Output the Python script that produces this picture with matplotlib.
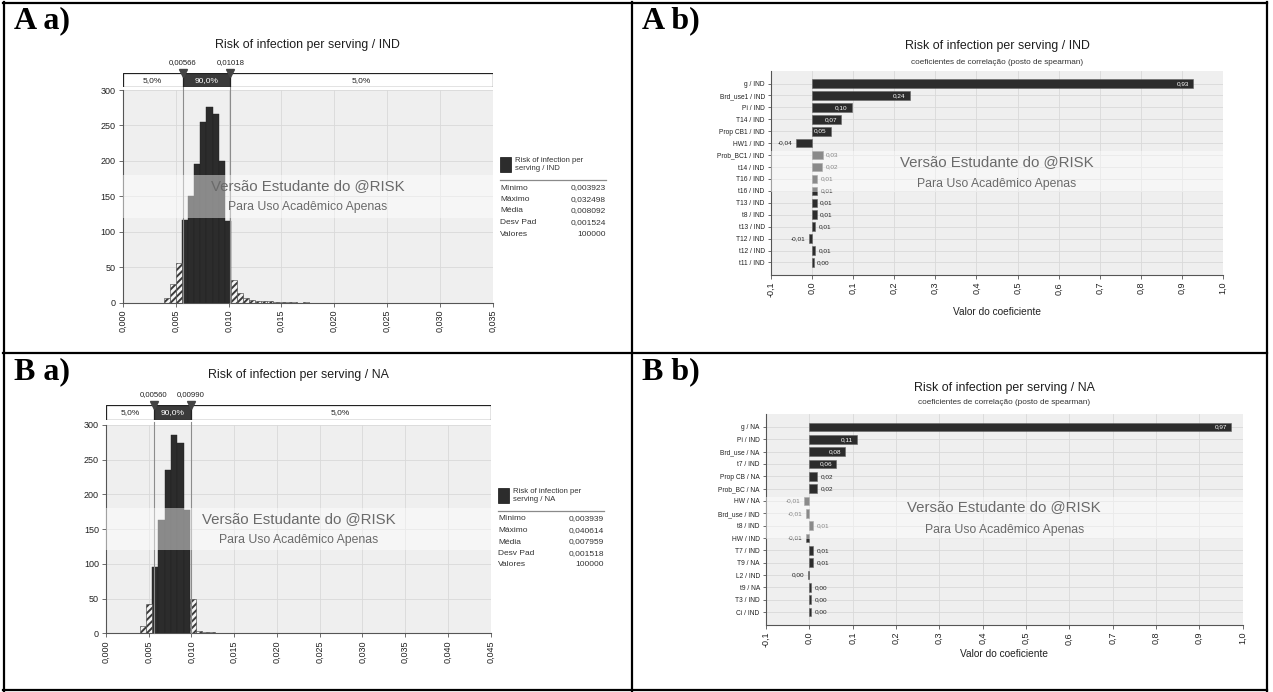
import matplotlib
matplotlib.use("Agg")
import matplotlib.pyplot as plt
from matplotlib.patches import Rectangle
from matplotlib.lines import Line2D
from matplotlib.ticker import FuncFormatter, MultipleLocator
import numpy as np

plt.rcParams["font.family"] = ["Liberation Sans", "DejaVu Sans"]
plt.rcParams["hatch.linewidth"] = 1.4

W, H = 1273, 692

# ============================================================================
# Data
# ============================================================================

# A a) -- risk per serving, IND (density per bin, 50 bins from the minimum)
a_title = "Risk of infection per serving / IND"
a_bin_start = 0.003923
a_bin_width = 0.000571
a_density = [6, 26, 56, 116, 150, 196, 255, 276, 266, 200, 115, 32, 13, 7,
             4, 3, 2, 2, 1.5, 1.5, 1, 0.5, 0, 1]
a_p5, a_p95 = 0.00566, 0.01018
a_xmax = 0.035
a_legend = "Risk of infection per\nserving / IND"
a_stat_values = ["0,003923", "0,032498", "0,008092", "0,001524", "100000"]

# B a) -- risk per serving, NA
b_title = "Risk of infection per serving / NA"
b_bin_start = 0.003939
b_bin_width = 0.0007335
b_density = [10, 42, 96, 163, 235, 286, 274, 178, 49, 4, 2, 1.5, 1, 1]
b_p5, b_p95 = 0.00560, 0.00990
b_xmax = 0.045
b_legend = "Risk of infection per\nserving / NA"
b_stat_values = ["0,003939", "0,040614", "0,007959", "0,001518", "100000"]

stat_names = ["Mínimo", "Máximo", "Média", "Desv Pad", "Valores"]
tail_pct = ["5,0%", "90,0%", "5,0%"]

# A b) -- Spearman rank correlation, IND
a_drivers = ["g / IND", "Brd_use1 / IND", "Pi / IND", "T14 / IND",
             "Prop CB1 / IND", "HW1 / IND", "Prob_BC1 / IND", "t14 / IND",
             "T16 / IND", "t16 / IND", "T13 / IND", "t8 / IND", "t13 / IND",
             "T12 / IND", "t12 / IND", "t11 / IND"]
a_coef = [0.927, 0.238, 0.096, 0.071, 0.046, -0.040, 0.026, 0.024,
          0.013, 0.012, 0.011, 0.011, 0.007, -0.007, 0.007, 0.004]

# B b) -- Spearman rank correlation, NA
b_drivers = ["g / NA", "Pi / IND", "Brd_use / NA", "t7 / IND",
             "Prop CB / NA", "Prob_BC / NA", "HW / NA", "Brd_use / IND",
             "t8 / IND", "HW / IND", "T7 / IND", "T9 / NA", "L2 / IND",
             "t9 / NA", "T3 / IND", "Ci / IND"]
b_coef = [0.973, 0.109, 0.083, 0.062, 0.018, 0.018, -0.013, -0.008,
          0.008, -0.008, 0.008, 0.008, -0.003, 0.004, 0.004, 0.004]

tornado_subtitle = "coeficientes de correlação (posto de spearman)"
tornado_xlabel = "Valor do coeficiente"
watermark = ["Versão Estudante do @RISK", "Para Uso Acadêmico Apenas"]

# ============================================================================
# Helpers (everything placed in reference pixel coordinates)
# ============================================================================

BG = "#efefef"
GRID = "#d9d9d9"
DARK = "#2c2c2c"
SPINE = "#555555"
WM = "#6a6a6a"


def comma(v, nd):
    return f"{round(v, nd) + 0.0:.{nd}f}".replace(".", ",")


def px_axes(fig, left, top, right, bottom):
    return fig.add_axes([left / W, 1 - bottom / H,
                         (right - left) / W, (bottom - top) / H])


def ftext(fig, x, y, s, **kw):
    kw.setdefault("ha", "center")
    kw.setdefault("va", "center")
    return fig.text(x / W, 1 - y / H, s, **kw)


def fline(fig, x0, y0, x1, y1, **kw):
    fig.add_artist(Line2D([x0 / W, x1 / W], [1 - y0 / H, 1 - y1 / H],
                          transform=fig.transFigure, **kw))


def style_axes(ax):
    ax.set_facecolor(BG)
    for s in ("top", "right"):
        ax.spines[s].set_visible(False)
    for s in ("left", "bottom"):
        ax.spines[s].set_color(SPINE)
        ax.spines[s].set_linewidth(0.8)
    ax.grid(True, color=GRID, lw=0.6)
    ax.set_axisbelow(True)
    ax.tick_params(colors=SPINE, labelcolor="#222222", length=3, width=0.6,
                   pad=2)


# ============================================================================
# Histogram with the @RISK percentile bar
# ============================================================================

def draw_hist(fig, box, bar_box, title_y, title, start, width, density,
              p5, p95, xmax, legend_xy, legend_name, stat_values):
    left, top, right, bottom = box
    ax = px_axes(fig, *box)
    style_axes(ax)

    dens = np.asarray(density, dtype=float)
    edges = start + width * np.arange(len(dens))
    centers = edges + width / 2
    inner = (centers >= p5) & (centers <= p95)

    ax.bar(edges[inner], dens[inner], width=width, align="edge",
           color=DARK, edgecolor="#222222", lw=0.3, zorder=2)
    ax.bar(edges[~inner], dens[~inner], width=width, align="edge",
           facecolor="#f4f4f4", edgecolor="#3a3a3a", hatch="/////",
           lw=0.4, zorder=2)

    for p in (p5, p95):
        ax.axvline(p, color="#8c8c8c", lw=0.8, zorder=4, ymax=1.015,
                   clip_on=False)

    ax.set_xlim(0, xmax)
    ax.set_ylim(0, 300)
    ax.xaxis.set_major_locator(MultipleLocator(0.005))
    ax.yaxis.set_major_locator(MultipleLocator(50))
    ax.xaxis.set_major_formatter(FuncFormatter(lambda v, _: comma(v, 3)))
    ax.tick_params(axis="x", labelrotation=90, labelsize=6.5)
    ax.tick_params(axis="y", labelsize=6.5)

    # watermark band
    ax.axhspan(120, 180, facecolor="white", alpha=0.45, lw=0, zorder=5)
    ax.text(xmax / 2, 164, watermark[0], ha="center", va="center",
            fontsize=10.8, color=WM, zorder=6)
    ax.text(xmax / 2, 135, watermark[1], ha="center", va="center",
            fontsize=8.8, color=WM, zorder=6)

    # percentile bar
    bax = px_axes(fig, *bar_box)
    bax.set_xlim(0, xmax)
    bax.set_ylim(0, 1)
    bax.axis("off")
    bax.add_patch(Rectangle((0, 0), xmax, 1, facecolor="white",
                            edgecolor="#222222", lw=0.9))
    bax.add_patch(Rectangle((p5, 0), p95 - p5, 1, facecolor="#3b3b3b",
                            edgecolor="#222222", lw=0.9))
    mids = [p5 / 2, (p5 + p95) / 2, (p95 + xmax) / 2]
    for m, s, c in zip(mids, tail_pct, ["#222222", "white", "#222222"]):
        bax.text(m, 0.5, s, ha="center", va="center", fontsize=6, color=c)
    bax.plot([p5, p95], [1.0, 1.0], "v", color="#444444", ms=5.5,
             clip_on=False)
    for p in (p5, p95):
        bax.annotate(comma(p, 5), (p, 1.0), xytext=(0, 5),
                     textcoords="offset points", ha="center", va="bottom",
                     fontsize=5.6, color="#222222", annotation_clip=False)

    ftext(fig, (left + right) / 2, title_y, title, fontsize=8.9,
          color="#1e1e1e")

    # legend + statistics
    lx, ly = legend_xy
    fig.add_artist(Rectangle((lx / W, 1 - (ly + 15) / H), 11 / W, 15 / H,
                             transform=fig.transFigure, facecolor=DARK,
                             edgecolor="#111111", lw=0.5))
    ftext(fig, lx + 15, ly + 7.5, legend_name, ha="left", fontsize=5.6,
          color="#333333", linespacing=1.2)
    fline(fig, lx, ly + 23, lx + 106, ly + 23, color="#8a8a8a", lw=0.9)
    for i, (n, v) in enumerate(zip(stat_names, stat_values)):
        y = ly + 31 + i * 11.5
        ftext(fig, lx, y, n, ha="left", fontsize=6, color="#333333")
        ftext(fig, lx + 106, y, v, ha="right", fontsize=6, color="#333333")


# ============================================================================
# Tornado chart
# ============================================================================

def draw_tornado(fig, box, title_y, sub_y, xlabel_y, title, drivers, coef,
                 band, wm_y):
    left, top, right, bottom = box
    ax = px_axes(fig, *box)
    style_axes(ax)

    rows = np.arange(len(drivers))
    ax.barh(rows, coef, height=0.72, color=DARK, edgecolor="#666666",
            lw=0.4, zorder=2)
    for r, v in zip(rows, coef):
        s = comma(v, 2)
        if abs(v) >= 0.045:
            ax.annotate(s, (v, r), xytext=(-3, 0), textcoords="offset points",
                        ha="right", va="center", fontsize=4.6,
                        color="white", zorder=3)
        elif v >= 0:
            ax.annotate(s, (v, r), xytext=(2.5, 0), textcoords="offset points",
                        ha="left", va="center", fontsize=4.6,
                        color="#222222", zorder=3)
        else:
            ax.annotate(s, (v, r), xytext=(-2.5, 0),
                        textcoords="offset points", ha="right", va="center",
                        fontsize=4.6, color="#222222", zorder=3)

    ax.set_xlim(-0.1, 1.0)
    ax.set_ylim(len(drivers) - 1 + 1.05, -1.05)
    ax.set_yticks(rows)
    ax.set_yticklabels(drivers)
    ax.xaxis.set_major_locator(MultipleLocator(0.1))
    ax.xaxis.set_major_formatter(FuncFormatter(lambda v, _: comma(v, 1)))
    ax.tick_params(axis="x", labelrotation=90, labelsize=6.5)
    ax.tick_params(axis="y", labelsize=4.8, length=2.5)

    # watermark band (axes fraction)
    ax.add_patch(Rectangle((0, band[0]), 1, band[1] - band[0],
                           transform=ax.transAxes, facecolor="white",
                           alpha=0.45, lw=0, zorder=5))
    ax.text(0.5, wm_y[0], watermark[0], transform=ax.transAxes,
            ha="center", va="center", fontsize=10.8, color=WM, zorder=6)
    ax.text(0.5, wm_y[1], watermark[1], transform=ax.transAxes,
            ha="center", va="center", fontsize=8.8, color=WM, zorder=6)

    cx = (left + right) / 2
    ftext(fig, cx, title_y, title, fontsize=8.9, color="#1e1e1e")
    ftext(fig, cx, sub_y, tornado_subtitle, fontsize=5.9, color="#333333")
    ftext(fig, cx, xlabel_y, tornado_xlabel, fontsize=7.3, color="#222222")


# ============================================================================
# Figure
# ============================================================================

fig = plt.figure(figsize=(W / 100, H / 100), dpi=100)
fig.patch.set_facecolor("white")

draw_hist(fig, (122.7, 90, 493, 302.7), (122.7, 73.3, 493, 87.3), 45,
          a_title, a_bin_start, a_bin_width, a_density, a_p5, a_p95, a_xmax,
          (500, 157), a_legend, a_stat_values)
draw_hist(fig, (106, 425, 490.7, 633.3), (106, 405, 490.7, 420), 375,
          b_title, b_bin_start, b_bin_width, b_density, b_p5, b_p95, b_xmax,
          (498, 488), b_legend, b_stat_values)

draw_tornado(fig, (771, 71, 1223, 275), 46.5, 62, 312, a_title,
             a_drivers, a_coef, (0.407, 0.608), (0.554, 0.446))
draw_tornado(fig, (766, 414, 1242.6, 625), 388, 403, 654, b_title,
             b_drivers, b_coef, (0.408, 0.607), (0.559, 0.45))

# panel labels
for x, y, s in [(14, 21, "A a)"), (642, 21, "A b)"),
                (14, 372, "B a)"), (642, 372, "B b)")]:
    ftext(fig, x, y, s, ha="left", fontsize=23, fontweight="bold",
          family=["Liberation Serif", "DejaVu Serif"])

# table rules
lw = 1.6
for (x0, y0, x1, y1) in [(3, 2.5, 1267, 2.5), (3, 690, 1267, 690),
                         (4, 2, 4, 691), (1266.5, 2, 1266.5, 691),
                         (632, 2, 632, 691), (3, 353, 1267, 353)]:
    fline(fig, x0, y0, x1, y1, color="black", lw=lw)

fig.savefig("out.png", dpi=100, facecolor="white")
